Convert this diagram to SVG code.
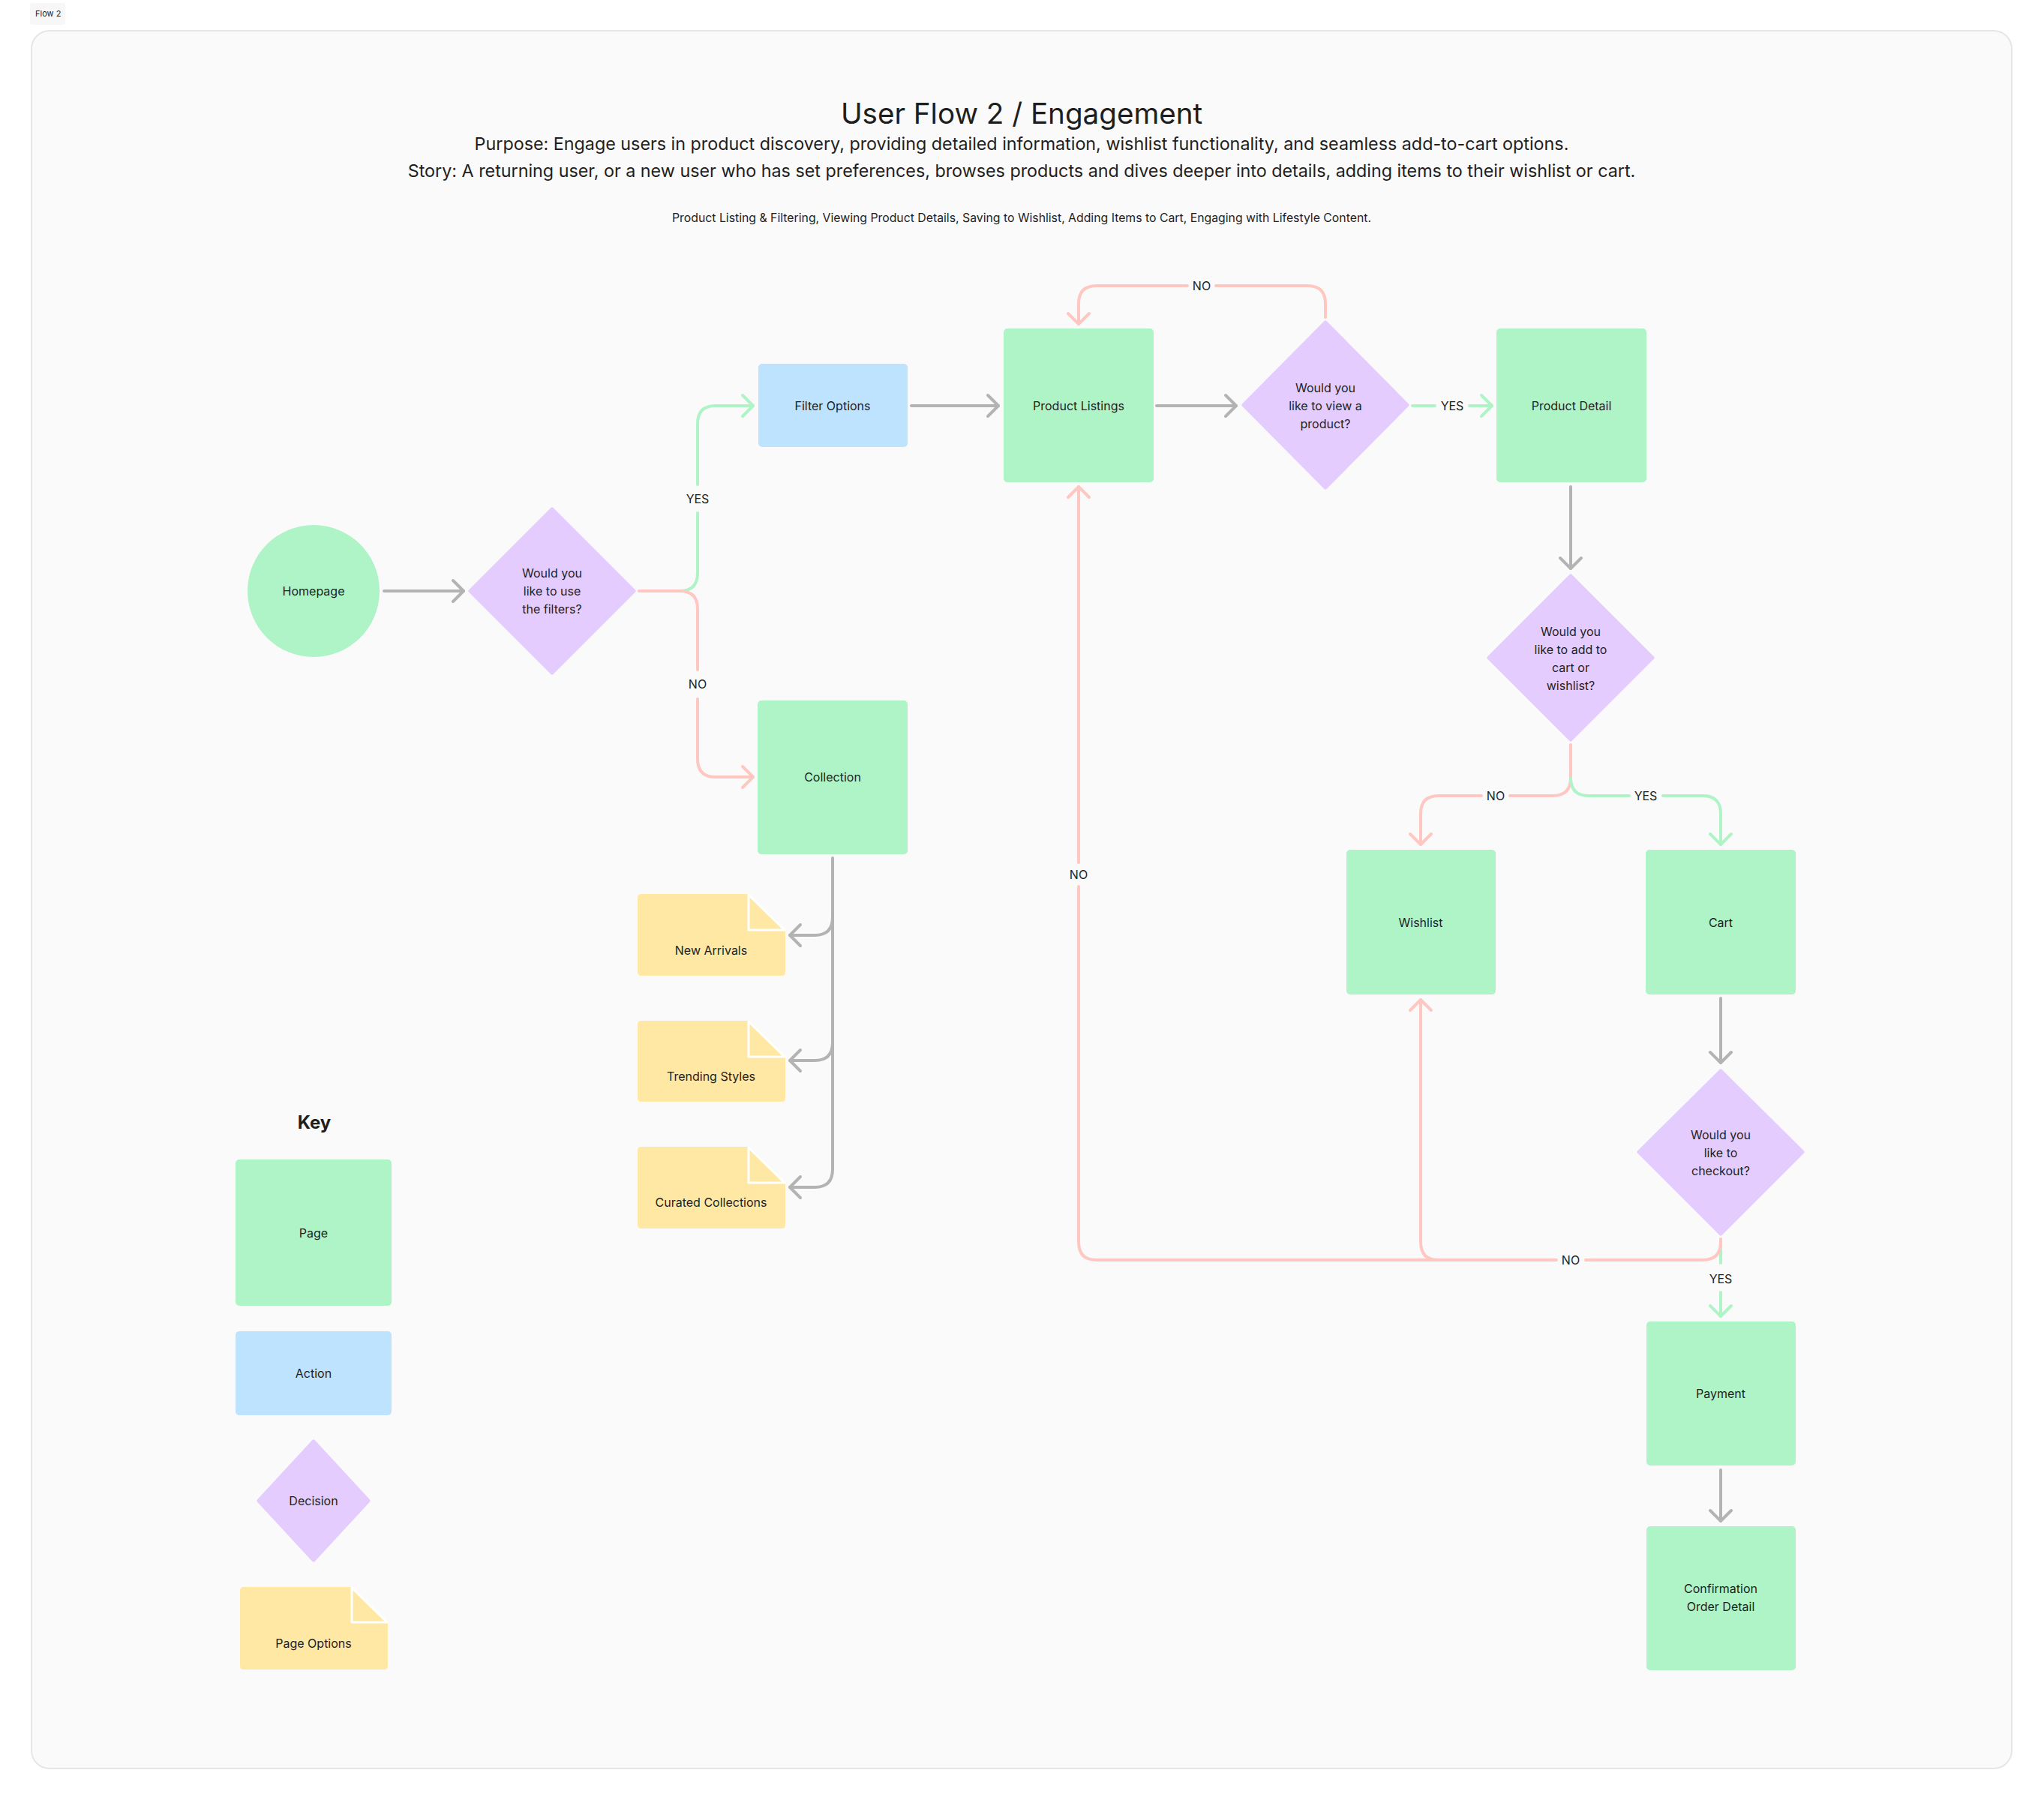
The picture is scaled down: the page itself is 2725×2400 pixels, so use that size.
<svg xmlns="http://www.w3.org/2000/svg" width="2725" height="2400" viewBox="0 0 2725 2400">
<defs>
<style>
.t{font-family:Inter,"Noto Sans","Liberation Sans",sans-serif;fill:#1e1e1e;}
.n{font-size:16px;text-anchor:middle;dominant-baseline:central;}
.page{fill:#aff4c6;}
.act{fill:#bde3ff;}
.dec{fill:#e4ccff;stroke:#e4ccff;stroke-width:5;stroke-linejoin:round;}
.opt{fill:#ffe8a3;}
.fold{fill:#ffe8a3;stroke:#ffffff;stroke-width:3;stroke-linejoin:round;}
.c{fill:none;stroke-width:4;stroke-linecap:round;stroke-linejoin:round;}
.g{stroke:#b3b3b3;}
.r{stroke:#ffc7c2;}
.y{stroke:#aff4c6;}
</style>
<marker id="ag" markerUnits="userSpaceOnUse" markerWidth="40" markerHeight="40" refX="20" refY="20" orient="auto" viewBox="0 0 40 40"><path d="M6 6 L20 20 L6 34" fill="none" stroke="#b3b3b3" stroke-width="4" stroke-linecap="round" stroke-linejoin="round"/></marker>
<marker id="ar" markerUnits="userSpaceOnUse" markerWidth="40" markerHeight="40" refX="20" refY="20" orient="auto" viewBox="0 0 40 40"><path d="M6 6 L20 20 L6 34" fill="none" stroke="#ffc7c2" stroke-width="4" stroke-linecap="round" stroke-linejoin="round"/></marker>
<marker id="ay" markerUnits="userSpaceOnUse" markerWidth="40" markerHeight="40" refX="20" refY="20" orient="auto" viewBox="0 0 40 40"><path d="M6 6 L20 20 L6 34" fill="none" stroke="#aff4c6" stroke-width="4" stroke-linecap="round" stroke-linejoin="round"/></marker>
</defs>
<rect width="2725" height="2400" fill="#ffffff"/>
<rect x="40" y="4" width="47" height="29" rx="3" fill="#f7f7f7"/>
<text class="t" x="47" y="22" font-size="11">Flow 2</text>
<rect x="42" y="41" width="2640" height="2317" rx="24" fill="#fafafa" stroke="#e6e6e6" stroke-width="2"/>

<g id="header">
<text class="t" x="1362" y="165" font-size="38.6" text-anchor="middle">User Flow 2 / Engagement</text>
<text class="t" x="1362" y="200" font-size="23.3" text-anchor="middle">Purpose: Engage users in product discovery, providing detailed information, wishlist functionality, and seamless add-to-cart options.</text>
<text class="t" x="1362" y="236" font-size="23.3" text-anchor="middle">Story: A returning user, or a new user who has set preferences, browses products and dives deeper into details, adding items to their wishlist or cart.</text>
<text class="t" x="1362" y="296" font-size="15.8" text-anchor="middle">Product Listing &amp; Filtering, Viewing Product Details, Saving to Wishlist, Adding Items to Cart, Engaging with Lifestyle Content.</text>
</g>

<g id="connectors">
<path class="c g" d="M512 788 H618" marker-end="url(#ag)"/>
<path class="c y" d="M906 788 Q930 788 930 764 V684 M930 646 V565 Q930 541 954 541 H1004" marker-end="url(#ay)"/>
<path class="c r" d="M852 788 H906 Q930 788 930 812 V893 M930 932 V1012 Q930 1036 954 1036 H1004" marker-end="url(#ar)"/>
<path class="c g" d="M1215 541 H1331" marker-end="url(#ag)"/>
<path class="c g" d="M1542 541 H1648" marker-end="url(#ag)"/>
<path class="c y" d="M1883 541 H1913 M1959 541 H1989" marker-end="url(#ay)"/>
<path class="c r" d="M1767 423 V405 Q1767 381 1743 381 H1621 M1583 381 H1462 Q1438 381 1438 405 V432" marker-end="url(#ar)"/>
<path class="c g" d="M1110 1144 V1559 Q1110 1583 1086 1583 H1053" marker-end="url(#ag)"/>
<path class="c g" d="M1110 1223 Q1110 1247 1086 1247 H1053" marker-end="url(#ag)"/>
<path class="c g" d="M1110 1390 Q1110 1414 1086 1414 H1053" marker-end="url(#ag)"/>
<path class="c g" d="M2094 649 V758" marker-end="url(#ag)"/>
<path class="c r" d="M2094 993 V1037 Q2094 1061 2070 1061 H2013 M1975 1061 H1918 Q1894 1061 1894 1085 V1126" marker-end="url(#ar)"/>
<path class="c y" d="M2094 1037 Q2094 1061 2118 1061 H2172 M2217 1061 H2270 Q2294 1061 2294 1085 V1126" marker-end="url(#ay)"/>
<path class="c g" d="M2294 1331 V1417" marker-end="url(#ag)"/>
<path class="c y" d="M2294 1654 V1684 M2294 1723 V1755" marker-end="url(#ay)"/>
<path class="c r" d="M2294 1652 V1656 Q2294 1680 2270 1680 H2114 M2075 1680 H1462 Q1438 1680 1438 1656 V1182 M1438 1150 V649" marker-end="url(#ar)"/>
<path class="c r" d="M1918 1680 Q1894 1680 1894 1656 V1333" marker-end="url(#ar)"/>
<path class="c g" d="M2294 1960 V2028" marker-end="url(#ag)"/>
<text class="t n" x="930" y="665">YES</text>
<text class="t n" x="930" y="912">NO</text>
<text class="t n" x="1602" y="381">NO</text>
<text class="t n" x="1936" y="541">YES</text>
<text class="t n" x="1994" y="1061">NO</text>
<text class="t n" x="2194" y="1061">YES</text>
<text class="t n" x="1438" y="1166">NO</text>
<text class="t n" x="2094" y="1680">NO</text>
<text class="t n" x="2294" y="1705">YES</text>
</g>

<g id="homepage"><circle cx="418" cy="788" r="88" class="page"/><text class="t n" x="418" y="788">Homepage</text></g>
<g id="decision-filters"><polygon class="dec" points="736,679 845,788 736,897 627,788"/><text class="t n" x="736" y="764">Would you</text><text class="t n" x="736" y="788">like to use</text><text class="t n" x="736" y="812">the filters?</text></g>
<g id="filter-options"><rect x="1011" y="485" width="199" height="111" rx="5" class="act"/><text class="t n" x="1110" y="541">Filter Options</text></g>
<g id="collection"><rect x="1010" y="934" width="200" height="205" rx="5" class="page"/><text class="t n" x="1110" y="1036">Collection</text></g>
<g id="new-arrivals"><path class="opt" d="M855 1192 H997 L1047 1241 V1296 Q1047 1301 1042 1301 H855 Q850 1301 850 1296 V1197 Q850 1192 855 1192 Z"/><path class="fold" d="M998 1193 V1240 H1046 Z"/><text class="t n" x="948" y="1267">New Arrivals</text></g>
<g id="trending-styles"><path class="opt" d="M855 1361 H997 L1047 1410 V1464 Q1047 1469 1042 1469 H855 Q850 1469 850 1464 V1366 Q850 1361 855 1361 Z"/><path class="fold" d="M998 1362 V1409 H1046 Z"/><text class="t n" x="948" y="1435">Trending Styles</text></g>
<g id="curated-collections"><path class="opt" d="M855 1529 H997 L1047 1578 V1633 Q1047 1638 1042 1638 H855 Q850 1638 850 1633 V1534 Q850 1529 855 1529 Z"/><path class="fold" d="M998 1530 V1577 H1046 Z"/><text class="t n" x="948" y="1603">Curated Collections</text></g>
<g id="product-listings"><rect x="1338" y="438" width="200" height="205" rx="5" class="page"/><text class="t n" x="1438" y="541">Product Listings</text></g>
<g id="decision-view"><polygon class="dec" points="1767,430 1876,540 1767,650 1658,540"/><text class="t n" x="1767" y="517">Would you</text><text class="t n" x="1767" y="541">like to view a</text><text class="t n" x="1767" y="565">product?</text></g>
<g id="product-detail"><rect x="1995" y="438" width="200" height="205" rx="5" class="page"/><text class="t n" x="2095" y="541">Product Detail</text></g>
<g id="decision-add"><polygon class="dec" points="2094,768 2203,877 2094,986 1985,877"/><text class="t n" x="2094" y="842">Would you</text><text class="t n" x="2094" y="866">like to add to</text><text class="t n" x="2094" y="890">cart or</text><text class="t n" x="2094" y="914">wishlist?</text></g>
<g id="wishlist"><rect x="1795" y="1133" width="199" height="193" rx="5" class="page"/><text class="t n" x="1894" y="1230">Wishlist</text></g>
<g id="cart"><rect x="2194" y="1133" width="200" height="193" rx="5" class="page"/><text class="t n" x="2294" y="1230">Cart</text></g>
<g id="decision-checkout"><polygon class="dec" points="2294,1428 2403,1536 2294,1645 2185,1536"/><text class="t n" x="2294" y="1513">Would you</text><text class="t n" x="2294" y="1537">like to</text><text class="t n" x="2294" y="1561">checkout?</text></g>
<g id="payment"><rect x="2195" y="1762" width="199" height="192" rx="5" class="page"/><text class="t n" x="2294" y="1858">Payment</text></g>
<g id="confirmation"><rect x="2195" y="2035" width="199" height="192" rx="5" class="page"/><text class="t n" x="2294" y="2118">Confirmation</text><text class="t n" x="2294" y="2142">Order Detail</text></g>

<g id="key">
<text class="t" x="419" y="1505" font-size="24" font-weight="700" text-anchor="middle">Key</text>
<rect x="314" y="1546" width="208" height="195" rx="5" class="page"/><text class="t n" x="418" y="1644">Page</text>
<rect x="314" y="1775" width="208" height="112" rx="5" class="act"/><text class="t n" x="418" y="1831">Action</text>
<polygon class="dec" points="418,1922 491,2001 418,2080 345,2001"/><text class="t n" x="418" y="2001">Decision</text>
<path class="opt" d="M325 2116 H468 L517 2164 V2221 Q517 2226 512 2226 H325 Q320 2226 320 2221 V2121 Q320 2116 325 2116 Z"/><path class="fold" d="M469 2117 V2163 H516 Z"/><text class="t n" x="418" y="2191">Page Options</text>
</g>
</svg>
